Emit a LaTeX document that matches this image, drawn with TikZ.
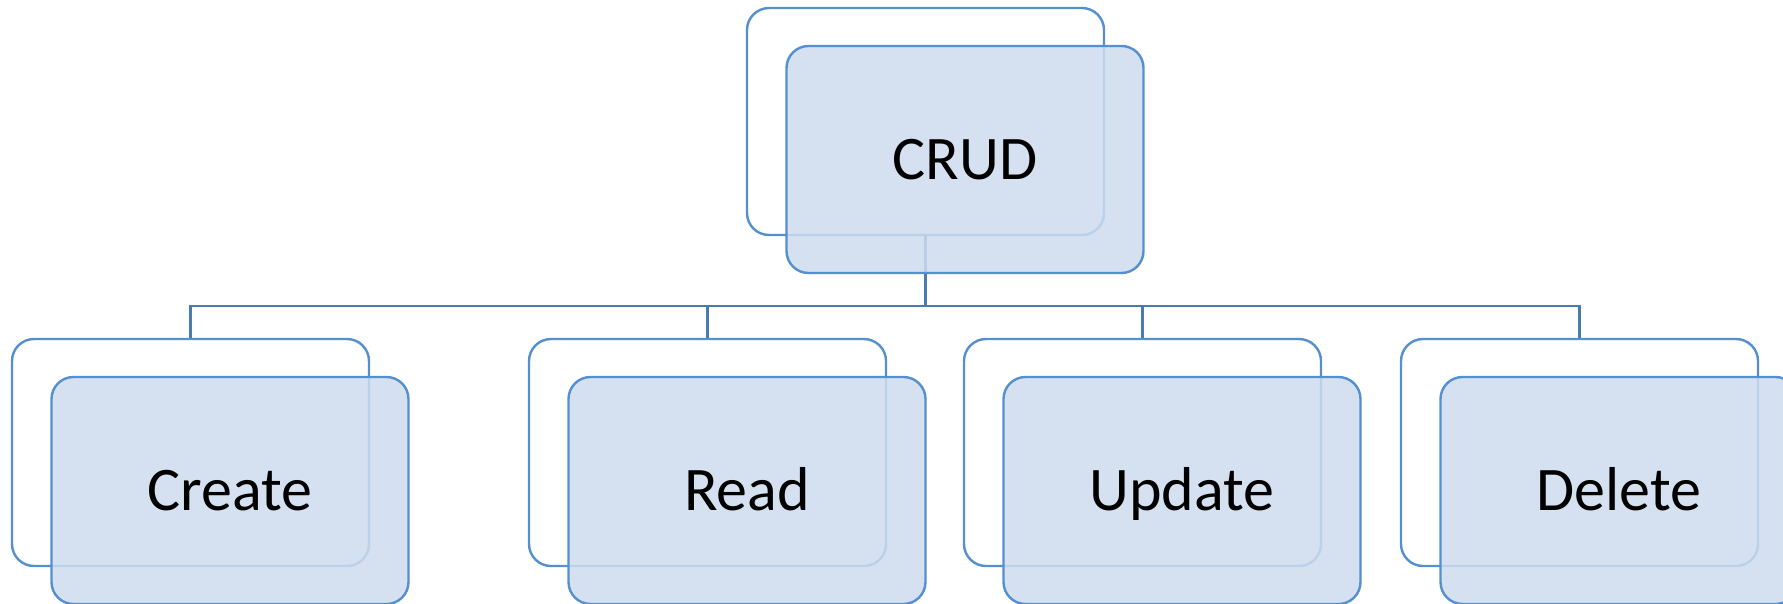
\documentclass[tikz,border=0pt]{standalone}
\usepackage{fontspec}
\setmainfont{Carlito}
\definecolor{boxline}{RGB}{84,143,208}
\definecolor{connline}{RGB}{72,124,176}
\definecolor{frontfill}{RGB}{206,220,238}
\tikzset{
  backbox/.style={draw=boxline, line width=2.4pt, fill=white, rounded corners=22pt,
    minimum width=357pt, minimum height=227pt, inner sep=0pt},
  frontbox/.style={draw=boxline, line width=2.4pt, fill=frontfill, fill opacity=0.85,
    text opacity=1, rounded corners=22pt, minimum width=357pt, minimum height=227pt,
    inner sep=0pt, font=\fontsize{62pt}{70pt}\selectfont, text height=39pt, text depth=0pt},
  conn/.style={draw=connline, line width=2.4pt}
}
\begin{document}
\begin{tikzpicture}[x=1pt,y=-1pt]
\useasboundingbox (0,0) rectangle (1783,603);
\clip (0,0) rectangle (1783,603);
% top
\node[backbox] (topback) at (925.5,121.5) {};
\coordinate (bus) at (925.5,306);
% children back boxes
\node[backbox] (c1back) at (190.5,452.5) {};
\node[backbox] (c2back) at (707.5,452.5) {};
\node[backbox] (c3back) at (1142.5,452.5) {};
\node[backbox] (c4back) at (1579.5,452.5) {};
% connectors
\draw[conn] (topback.south) -- (bus);
\draw[conn] (c1back.north) -- (c1back.north |- bus) -- (c4back.north |- bus) -- (c4back.north);
\draw[conn] (c2back.north) -- (c2back.north |- bus);
\draw[conn] (c3back.north) -- (c3back.north |- bus);
% front boxes
\node[frontbox] (topfront) at (965,159.5) {CRUD};
\node[frontbox] (c1front) at (230,490.5) {Create};
\node[frontbox] (c2front) at (747,490.5) {Read};
\node[frontbox] (c3front) at (1182,490.5) {Update};
\node[frontbox] (c4front) at (1619,490.5) {Delete};
\end{tikzpicture}
\end{document}
